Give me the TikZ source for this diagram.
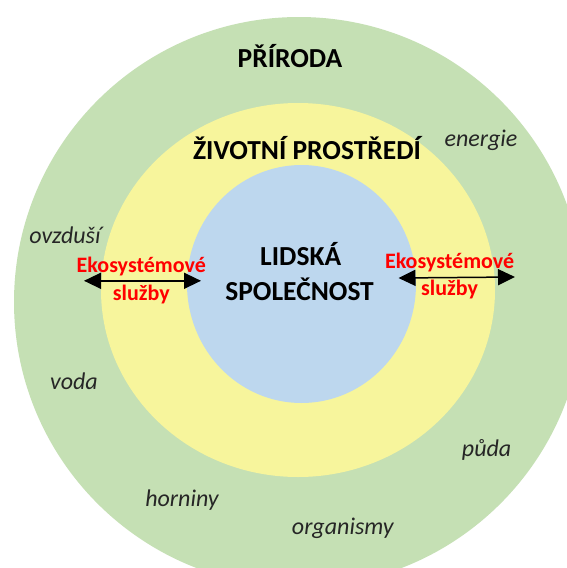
\documentclass[tikz,border=0pt]{standalone}
\usepackage{fontspec}
\setmainfont{Carlito}
\usetikzlibrary{arrows.meta}

\definecolor{natgreen}{HTML}{C5E0B4}
\definecolor{envyellow}{HTML}{F7F59C}
\definecolor{socblue}{HTML}{BDD7EE}
\definecolor{esred}{HTML}{FF0000}

\tikzset{
  title/.style={font=\fontsize{27.5}{30}\selectfont\bfseries, anchor=base, inner sep=0pt},
  element/.style={font=\fontsize{24}{27}\selectfont\itshape, text=black!85, anchor=base, inner sep=0pt},
  service/.style={font=\fontsize{22}{25}\selectfont\bfseries, text=esred, anchor=base, inner sep=0pt},
  flow/.style={line width=1.5pt, {Triangle[length=17pt,width=16pt]}-{Triangle[length=17pt,width=16pt]}}
}

\begin{document}
\begin{tikzpicture}[x=1pt,y=-1pt]
  \useasboundingbox (0,0) rectangle (567,568);
  \fill[white] (0,0) rectangle (567,568);
  \clip (0,0) rectangle (567,568);

  % nested spheres: nature, environment, human society
  \fill[natgreen] (299,302) circle [radius=285];
  \fill[envyellow] (298,290) ellipse [x radius=197, y radius=187];
  \fill[socblue] (301.5,284) ellipse [x radius=114.5, y radius=119];

  % headings
  \node[title] (priroda) at (290,67) {PŘÍRODA};
  \node[title] (zp) at (307,159.5) {ŽIVOTNÍ PROSTŘEDÍ};
  \node[title] (lidska) at (300.7,265) {LIDSKÁ};
  \node[title] (spol) at (299.6,300.7) {SPOLEČNOST};

  % components of nature
  \node[element] (energie) at (481,146.5) {energie};
  \node[element] (ovzdusi) at (65,243.5) {ovzduší};
  \node[element] (voda) at (74,389.5) {voda};
  \node[element] (puda) at (486.6,456) {půda};
  \node[element] (horniny) at (182,506) {horniny};
  \node[element] (organismy) at (342.8,534.4) {organismy};

  % ecosystem services, left
  \node[service] (esL) at (141.3,272.5) {Ekosystémové};
  \node[service] (slL) at (141.3,300.7) {služby};
  \coordinate (aL1) at (84,280.8);
  \coordinate (aL2) at (201,280.8);
  \draw[flow] (aL1) -- (aL2);

  % ecosystem services, right
  \node[service] (esR) at (449.6,268) {Ekosystémové};
  \node[service] (slR) at (449.6,295) {služby};
  \coordinate (aR1) at (398.5,278);
  \coordinate (aR2) at (515,277);
  \draw[flow] (aR1) -- (aR2);
\end{tikzpicture}
\end{document}
